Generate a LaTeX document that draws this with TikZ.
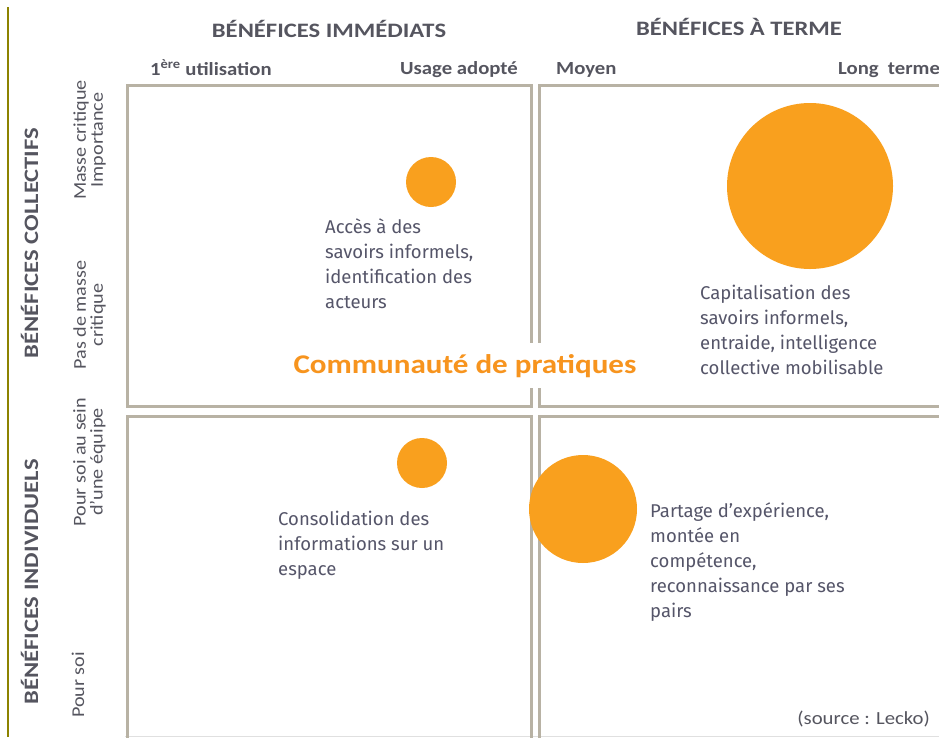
\documentclass[tikz,border=0pt]{standalone}
\usepackage{fontspec}
\setmainfont{Carlito}
\newfontfamily\bodyfont{Fira Sans}
\newfontfamily\widehdr{Carlito}[FakeStretch=1.2]
\newfontfamily\widesub{Carlito}[FakeStretch=1.12]
\newfontfamily\widetitle{Carlito}[FakeStretch=1.15]
\definecolor{boxgray}{RGB}{184,178,164}
\definecolor{olivebar}{RGB}{140,130,0}
\definecolor{hdrcol}{RGB}{85,85,95}
\definecolor{bodycol}{RGB}{85,85,105}
\definecolor{dotorange}{RGB}{249,160,30}
\definecolor{titleorange}{RGB}{247,148,30}
\begin{document}
\begin{tikzpicture}[x=1pt,y=-1pt,
  hdr/.style={font=\widehdr\bfseries\fontsize{20.5}{24}\selectfont, text=hdrcol, inner sep=0pt},
  subhdr/.style={font=\widesub\bfseries\fontsize{18.5}{22}\selectfont, text=hdrcol, inner sep=0pt},
  side/.style={font=\widehdr\bfseries\fontsize{20.5}{24}\selectfont, text=hdrcol, inner sep=0pt, rotate=90},
  lab/.style={font=\widesub\fontsize{18}{17}\selectfont, text=hdrcol, inner sep=0pt, rotate=90, align=center},
  body/.style={font=\bodyfont\fontsize{18.5}{25}\selectfont, text=bodycol, inner sep=0pt, align=left, anchor=north west},
  dot/.style={circle, fill=dotorange, inner sep=0pt, minimum size=#1},
  quad/.style={draw=boxgray, line width=3pt}]
\useasboundingbox (0,0) rectangle (939,737);
\fill[white] (0,0) rectangle (939,737);
\begin{scope}
\clip (0,0) rectangle (939,737);
\draw[olivebar, line width=1.6pt] (8,7) -- (8,737);
\draw[black!12, line width=1pt] (125,736) -- (939,736);
\draw[quad] (127,85) rectangle (531,406.5);
\draw[quad] (539.5,85) rectangle (960,406.5);
\draw[quad] (127,416) rectangle (531,760);
\draw[quad] (539.5,416) rectangle (960,760);
\end{scope}
% headers
\node[hdr, anchor=base] (h1) at (329,37) {BÉNÉFICES IMMÉDIATS};
\node[hdr, anchor=base] (h2) at (739,35) {BÉNÉFICES À TERME};
\node[subhdr, anchor=base west] (s1) at (150,75) {1\textsuperscript{ère} utilisation};
\node[subhdr, anchor=base east] (s2) at (518,74) {Usage adopté};
\node[subhdr, anchor=base west] (s3) at (556,74) {Moyen};
\node[subhdr, anchor=base west] (s4) at (838,74) {Long\hspace{0.5em}terme};
% left labels
\node[side, anchor=base] (l1) at (38,243) {BÉNÉFICES COLLECTIFS};
\node[side, anchor=base] (l2) at (38,582) {BÉNÉFICES INDIVIDUELS};
\node[lab] (m1) at (89.5,140) {Masse critique\\Importance};
\node[lab] (m2) at (89.5,315) {Pas de masse\\critique};
\node[lab] (m3) at (89.5,462) {Pour soi au sein\\d’une équipe};
\node[lab, anchor=base] (m4) at (84,685) {Pour soi};
% circles
\node[dot=50] (c1) at (431,182) {};
\node[dot=166] (c2) at (810,186) {};
\node[dot=50] (c3) at (422,463) {};
\node[dot=108] (c4) at (583,509) {};
% body texts
\node[body] (t1) at (325,218) {Accès à des\\savoirs informels,\\identification des\\acteurs};
\node[body] (t2) at (700,285) {Capitalisation des\\savoirs informels,\\entraide, intelligence\\collective mobilisable};
\node[body] (t3) at (278,511) {Consolidation des\\informations sur un\\espace};
\node[body] (t4) at (650,502) {Partage d’expérience,\\montée en\\compétence,\\reconnaissance par ses\\pairs};
% title
\node[font=\widetitle\bfseries\fontsize{27}{30}\selectfont, text=titleorange, fill=white, inner xsep=3pt, inner ysep=11pt, anchor=base] (ct) at (465,373) {Communauté de pratiques};
% source
\node[font=\widesub\fontsize{18.5}{20}\selectfont, text=hdrcol, inner sep=0pt, anchor=base east] (src) at (930,724) {(source : Lecko)};
\end{tikzpicture}
\end{document}
